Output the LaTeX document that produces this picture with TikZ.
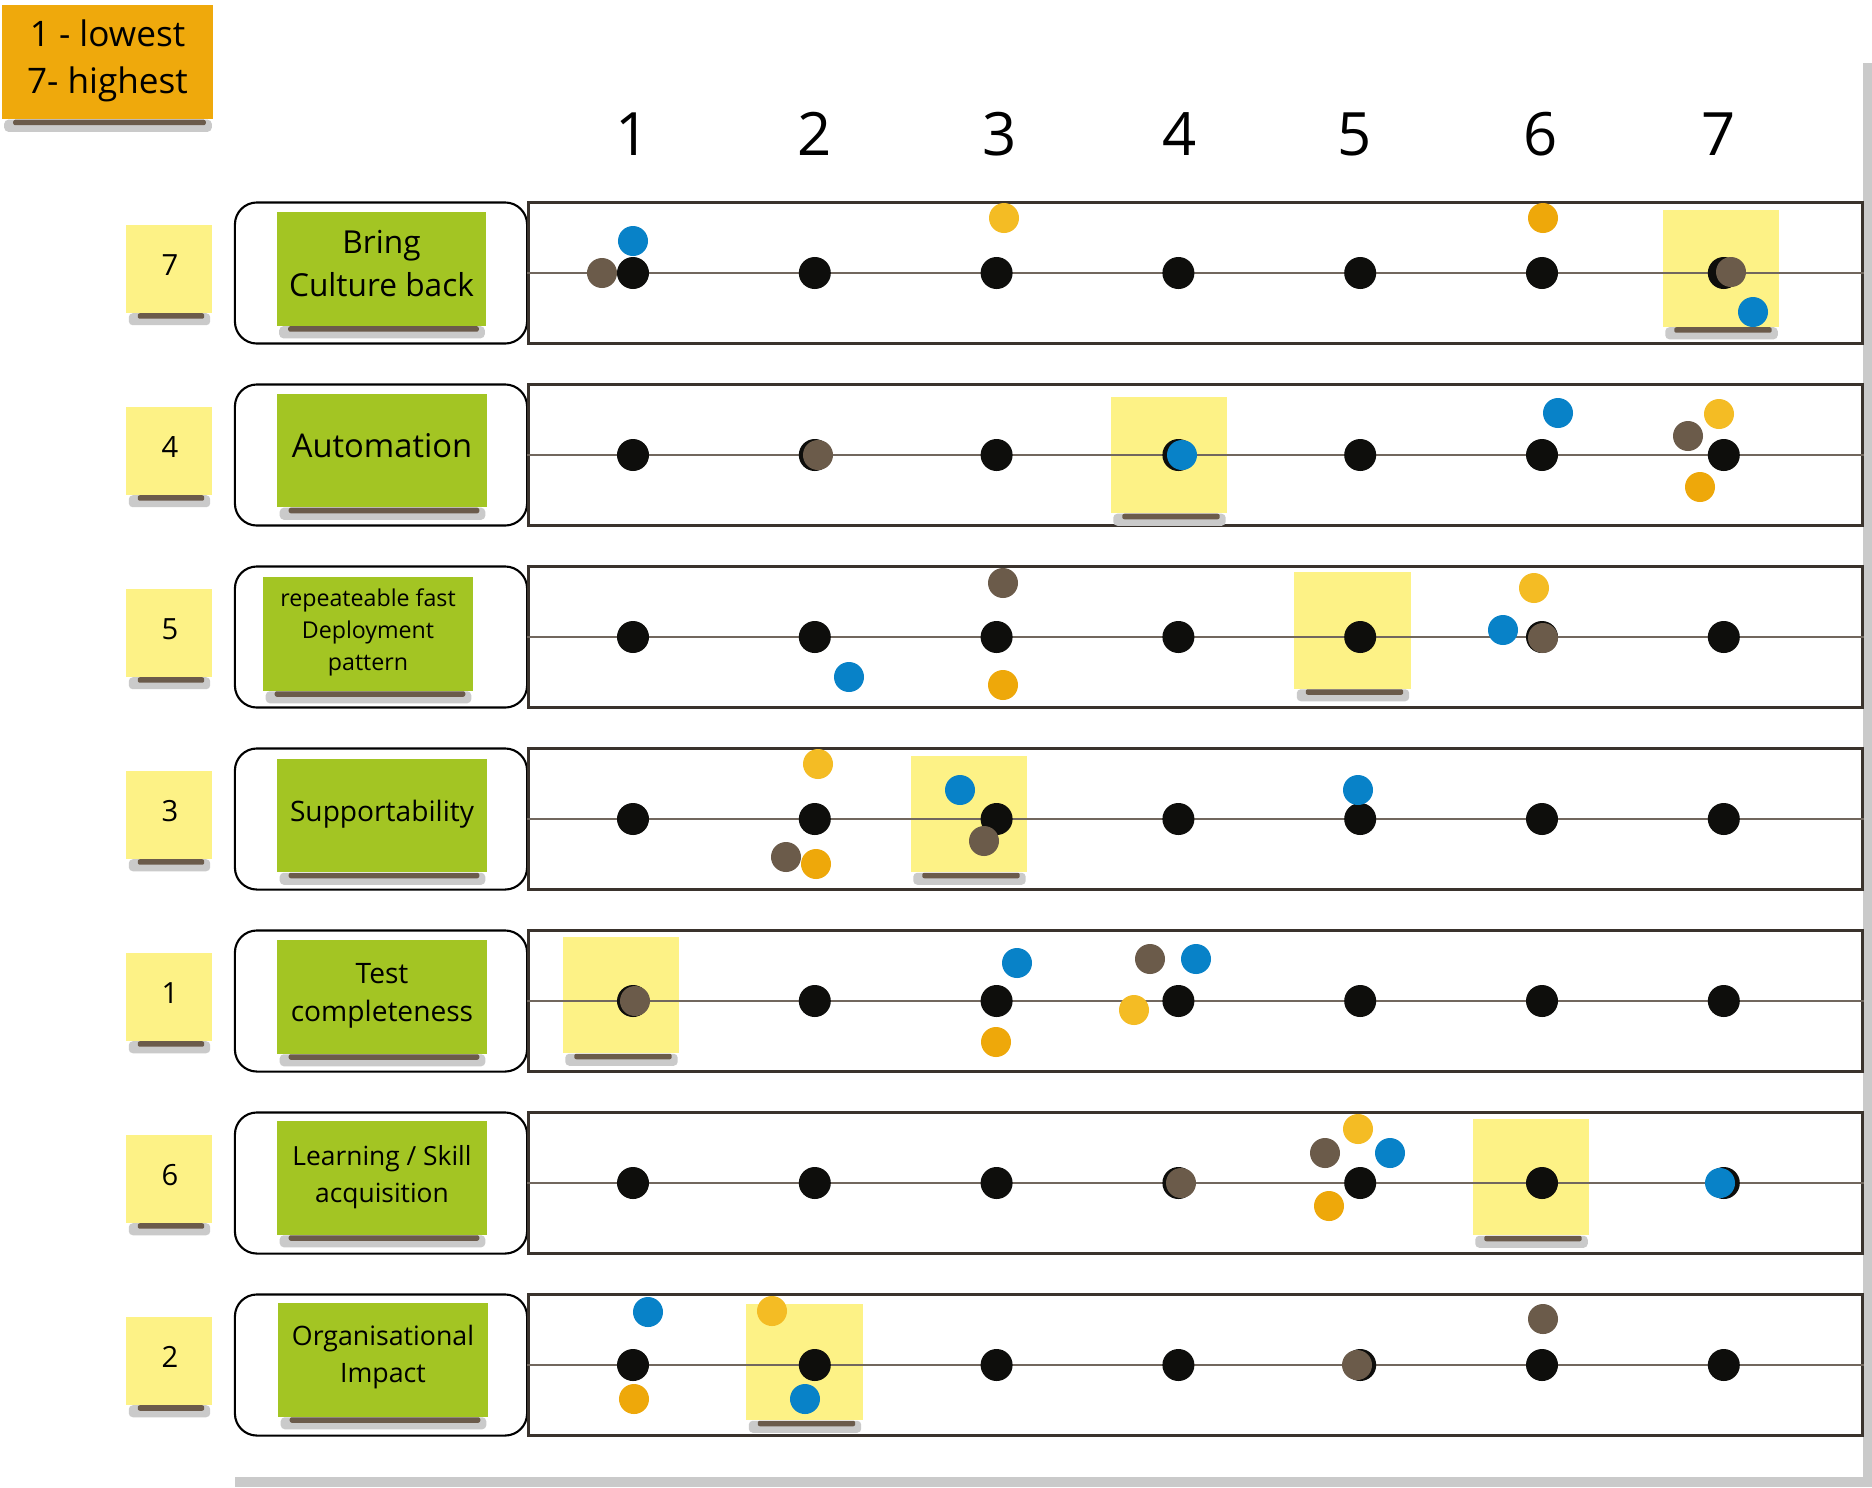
\documentclass[tikz,border=0pt]{standalone}
\usepackage{fontspec}
\setmainfont{Open Sans}

\definecolor{notegreen}{HTML}{A3C523}
\definecolor{noteyellow}{HTML}{FDF286}
\definecolor{noteorange}{HTML}{EFA90C}
\definecolor{dotblack}{HTML}{0E0E0C}
\definecolor{dotblue}{HTML}{0882C8}
\definecolor{dotbrown}{HTML}{6B5B4A}
\definecolor{dotorange}{HTML}{EEA80A}
\definecolor{dotgold}{HTML}{F4BC24}
\definecolor{shadowgray}{HTML}{CACACA}
\definecolor{shadowbrown}{HTML}{6B5B4B}
\definecolor{rowframe}{HTML}{3A332D}
\definecolor{guideline}{HTML}{71675E}

% soft shadow under a sticky note
\newcommand{\noteshadow}[1]{%
  \fill[shadowgray, rounded corners=0.04cm]
    ([xshift=0.03cm]#1.south west) rectangle ([xshift=-0.02cm,yshift=-0.12cm]#1.south east);
  \fill[shadowbrown, rounded corners=0.02cm]
    ([xshift=0.12cm]#1.south west) rectangle ([xshift=-0.08cm,yshift=-0.055cm]#1.south east);
}

\begin{document}
\begin{tikzpicture}[
    x=0.01cm, y=-0.01cm,
    note/.style={inner sep=0pt},
    notetext/.style={inner sep=0pt, align=center, text=black},
    greennote/.style={note, fill=notegreen, minimum width=2.09cm, minimum height=1.13cm},
    rank/.style={note, fill=noteyellow, minimum width=0.85cm, minimum height=0.87cm},
    score/.style={note, fill=noteyellow, minimum width=1.16cm, minimum height=1.16cm},
    topic/.style={draw=black, line width=0.6pt, rounded corners=0.22cm, fill=white,
      minimum width=2.92cm, minimum height=1.41cm},
    rowbox/.style={draw=rowframe, line width=0.8pt, fill=white,
      minimum width=13.33cm, minimum height=1.41cm},
    colnum/.style={inner sep=0pt, font=\fontsize{17}{20}\selectfont},
    blackdot/.style={circle, inner sep=0pt, minimum size=0.32cm, fill=dotblack},
    vote/.style={circle, inner sep=0pt, minimum size=0.30cm},
    vote blue/.style={vote, fill=dotblue},
    vote brown/.style={vote, fill=dotbrown},
    vote orange/.style={vote, fill=dotorange},
    vote gold/.style={vote, fill=dotgold}
  ]

  \useasboundingbox (0,0) rectangle (1872,1487);

  % Board shadow
  \fill[shadowgray] (1863,63) rectangle (1872,1487);
  \fill[shadowgray] (235,1477) rectangle (1872,1487);

  % Legend note
  \node[note, fill=noteorange, minimum width=2.11cm, minimum height=1.14cm] (legend) at (107.5,62) {};
  \noteshadow{legend}
  \node[notetext, font=\fontsize{10}{13.4}\selectfont] (legend text) at (107.5,60.5)
    {1 - lowest\\7- highest};

  % Scale numbers
  \foreach \c/\x in {1/633, 2/815, 3/1000, 4/1180, 5/1355, 6/1541, 7/1719}
    \node[colnum] (col\c) at (\x,134) {\c};

  % Rank notes, topic frames and row frames
  \foreach \r/\rank in {1/7, 2/4, 3/5, 4/3, 5/1, 6/6, 7/2} {
    \pgfmathsetmacro\ry{273+182*(\r-1)}
    \node[rank] (rank\r) at (169,{\ry-4}) {};
    \noteshadow{rank\r}
    \node[notetext, font=\fontsize{8.3}{10}\selectfont] (rank\r text) at (170,{\ry-8}) {\rank};
    \node[topic] (topic\r) at (381,\ry) {};
    \node[rowbox] (row\r) at (1195.5,\ry) {};
  }

  % Topic notes
  \foreach \t/\x/\y in {1/381.5/269, 2/382/450.5, 3/368/634, 4/382/815.5,
                        5/382/997, 6/382/1178, 7/383/1360} {
    \node[greennote] (theme\t) at (\x,\y) {};
    \noteshadow{theme\t}
  }
  \node[notetext, font=\fontsize{9}{12}\selectfont] (theme1 text) at (381.5,263.5) {Bring\\Culture back};
  \node[notetext, font=\fontsize{9.3}{12}\selectfont] (theme2 text) at (382,445.5) {Automation};
  \node[notetext, font=\fontsize{6.6}{9.2}\selectfont] (theme3 text) at (368,632.5) {repeateable fast\\Deployment\\pattern};
  \node[notetext, font=\fontsize{8}{11}\selectfont] (theme4 text) at (382,814) {Supportability};
  \node[notetext, font=\fontsize{8}{10.8}\selectfont] (theme5 text) at (382,996) {Test\\completeness};
  \node[notetext, font=\fontsize{7.5}{10.5}\selectfont] (theme6 text) at (382,1177.5) {Learning / Skill\\acquisition};
  \node[notetext, font=\fontsize{7.6}{10.5}\selectfont] (theme7 text) at (383,1357) {Organisational\\Impact};

  % Agreed score notes
  \foreach \r/\x/\y in {1/1721/268.5, 2/1169/455, 3/1352.5/630.5, 4/969/814,
                        5/621/995, 6/1531/1177, 7/804.5/1362} {
    \node[score] (pick\r) at (\x,\y) {};
    \noteshadow{pick\r}
  }

  % Guide lines
  \foreach \r in {1,...,7}
    \draw[guideline, line width=0.45pt] (row\r.west) -- (row\r.east);

  % Scale points
  \foreach \r in {1,...,7}
    \foreach \c in {1,...,7}
      \node[blackdot] (d\r\c) at ({633+181.8*(\c-1)},{273+182*(\r-1)}) {};

  % Votes
  \foreach \s/\x/\y [count=\i] in {
      blue/633/241, brown/602/273, gold/1004/218, orange/1543/218, brown/1731/272, blue/1753/312,
      brown/818/455, blue/1182/455, blue/1558/413, gold/1719/414, brown/1688/436, orange/1700/487,
      blue/849/677, brown/1003/583, orange/1003/685, gold/1534/588, blue/1503/630, brown/1543/638,
      gold/818/764, brown/786/857, orange/816/864, blue/960/790, brown/984/841, blue/1358/790,
      brown/635/1001, blue/1017/963, orange/996/1042, brown/1150/959, blue/1196/959, gold/1134/1010,
      brown/1181/1183, gold/1358/1129, brown/1325/1153, blue/1390/1153, orange/1329/1206, blue/1720/1183,
      blue/648/1312, orange/634/1399, gold/772/1311, blue/805/1399, brown/1357/1365, brown/1543/1319}
    \node[vote \s] (v\i) at (\x,\y) {};

\end{tikzpicture}
\end{document}
